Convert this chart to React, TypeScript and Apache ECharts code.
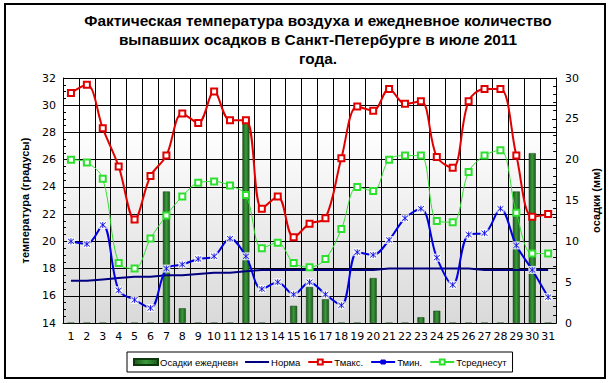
import React, { useEffect, useRef } from "react";
import * as echarts from "echarts";

const days = Array.from({ length: 31 }, (_, i) => String(i + 1));
const precip = [0, 0, 0, 0, 0, 0, 16.1, 1.8, 0, 0, 0, 24.9, 0, 0, 2.1, 4.4, 2.9, 0, 0, 5.5, 0, 0, 0.7, 1.5, 0, 0, 0, 0, 16.1, 20.8, 0];
const norma = [17.1, 17.1, 17.2, 17.3, 17.4, 17.4, 17.5, 17.5, 17.6, 17.7, 17.7, 17.8, 17.9, 17.9, 17.9, 17.9, 17.9, 17.9, 17.9, 17.9, 18.0, 18.0, 18.0, 18.0, 18.0, 18.0, 17.9, 17.9, 17.9, 17.9, 17.9];
const tmax = [30.9, 31.5, 28.3, 25.5, 21.6, 24.8, 26.3, 29.4, 28.7, 31.0, 28.9, 28.9, 22.4, 23.3, 20.3, 21.3, 21.7, 26.1, 29.9, 29.6, 31.2, 30.1, 30.3, 26.2, 25.4, 30.3, 31.2, 31.2, 26.3, 21.8, 22.0];
const tmin = [20.0, 19.8, 21.2, 16.4, 15.7, 15.1, 18.0, 18.3, 18.7, 18.9, 20.2, 18.9, 16.5, 17.0, 16.1, 17.0, 16.1, 15.3, 19.2, 19.0, 20.1, 21.7, 22.4, 18.8, 16.8, 20.5, 20.6, 22.4, 19.7, 17.9, 15.9];
const tavg = [26.0, 25.8, 24.6, 18.4, 18.0, 20.2, 21.9, 23.3, 24.3, 24.4, 24.1, 23.4, 19.5, 19.9, 18.4, 18.1, 18.7, 20.9, 24.0, 23.7, 26.0, 26.3, 26.3, 21.5, 21.4, 25.1, 26.3, 26.7, 22.1, 19.1, 19.1];
const titleLines = [
  "Фактическая температура воздуха и ежедневное количество",
  "выпавших осадков в Санкт-Петербурге в июле 2011",
  "года.",
];
const names = ["Осадки ежедневн", "Норма", "Тмакс.", "Тмин.", "Тсреднесут"];

const STAR = "path://M0,0L10,10M10,0L0,10M5,-1L5,11";
const LINEICON = "path://M0,0L24,0L24,2L0,2Z";
const FONT = "Liberation Sans";
const TICKFONT = "DejaVu Sans";

export default function App() {
  const ref = useRef<HTMLDivElement>(null);
  useEffect(() => {
    document.body.style.margin = "0";
    const chart = echarts.init(ref.current!, null, { renderer: "svg" });
    const option: any = {
      animation: false,
      backgroundColor: "#ffffff",
      graphic: [
        {
          type: "rect",
          shape: { x: 5, y: 4, width: 600, height: 374 },
          style: { fill: "none", stroke: "#000", lineWidth: 2 },
          silent: true,
        },
        ...titleLines.map((t, i) => ({
          type: "text",
          x: 318,
          y: 20 + i * 19,
          style: {
            text: t,
            font: `bold 15.4px "${FONT}"`,
            fill: "#000",
            align: "center",
            verticalAlign: "middle",
          },
        })),
      ],
      legend: {
        left: 127,
        top: 352,
        orient: "horizontal",
        padding: [5, 6, 5, 6],
        itemGap: 7,
        itemWidth: 24,
        itemHeight: 6,
        symbolKeepAspect: true,
        borderColor: "#000",
        borderWidth: 1,
        borderRadius: 0,
        textStyle: { fontFamily: FONT, fontSize: 9.5, color: "#000", padding: [0, 0, 0, -3] },
        data: [
          { name: names[0], icon: "rect" },
          { name: names[1], icon: LINEICON },
          names[2],
          names[3],
          names[4],
        ],
      },
      grid: {
        left: 63,
        top: 78,
        width: 499,
        height: 245,
        show: true,
        borderWidth: 0,
        backgroundColor: new echarts.graphic.LinearGradient(0, 0, 0, 1, [
          { offset: 0, color: "#ffffff" },
          { offset: 0.2, color: "#ffffff" },
          { offset: 1, color: "#d9d9d9" },
        ]),
      },
      xAxis: {
        type: "category",
        data: days,
        boundaryGap: true,
        axisLine: { lineStyle: { color: "#000", width: 1 } },
        axisTick: { show: false },
        axisLabel: { color: "#000", fontFamily: TICKFONT, fontSize: 11, margin: 8, interval: 0 },
        splitLine: { show: true, interval: 0, lineStyle: { color: "#000", width: 1 } },
      },
      yAxis: [
        {
          type: "value",
          min: 14,
          max: 32,
          interval: 2,
          name: "температура (градусы)",
          nameLocation: "middle",
          nameRotate: 90,
          nameGap: 33,
          nameTextStyle: { fontFamily: FONT, fontSize: 11, fontWeight: "bold", color: "#000" },
          axisLine: { show: true, lineStyle: { color: "#000" } },
          axisTick: { show: true, inside: true, length: 4, lineStyle: { color: "#000" } },
          minorTick: { show: true, splitNumber: 4, length: 3, lineStyle: { color: "#000" } },
          axisLabel: { color: "#000", fontFamily: TICKFONT, fontSize: 11, margin: 7 },
          splitLine: { show: true, lineStyle: { color: "#000", width: 1 } },
        },
        {
          type: "value",
          min: 0,
          max: 30,
          interval: 5,
          position: "right",
          name: "осадки (мм)",
          nameLocation: "middle",
          nameRotate: 90,
          nameGap: 30,
          nameTextStyle: { fontFamily: FONT, fontSize: 11, fontWeight: "bold", color: "#000" },
          axisLine: { show: true, lineStyle: { color: "#000" } },
          axisTick: { show: true, inside: true, length: 4, lineStyle: { color: "#000" } },
          minorTick: { show: true, splitNumber: 5, length: 3, lineStyle: { color: "#000" } },
          axisLabel: { color: "#000", fontFamily: TICKFONT, fontSize: 11, margin: 9 },
          splitLine: { show: false },
        },
      ],
      series: [
        {
          name: names[0],
          type: "bar",
          yAxisIndex: 1,
          data: precip,
          barWidth: 7,
          z: 1,
          itemStyle: {
            color: new echarts.graphic.LinearGradient(0, 0, 1, 0, [
              { offset: 0, color: "#1d5a1d" },
              { offset: 0.5, color: "#3c9a3c" },
              { offset: 1, color: "#1d5a1d" },
            ]),
            borderColor: "#0d3a0d",
            borderWidth: 0.5,
          },
        },
        {
          name: names[1],
          type: "line",
          data: norma,
          showSymbol: false,
          symbol: "none",
          color: "#000080",
          lineStyle: { color: "#000080", width: 2 },
          z: 2,
        },
        {
          name: names[2],
          type: "line",
          data: tmax,
          smooth: 0.35,
          symbol: "emptyRect",
          symbolSize: 6,
          color: "#e00000",
          lineStyle: { color: "#e00000", width: 2 },
          itemStyle: { color: "#e00000", borderWidth: 1 },
          z: 4,
        },
        {
          name: names[3],
          type: "line",
          data: tmin,
          smooth: 0.35,
          symbol: STAR,
          symbolSize: 6,
          color: "#0000e0",
          lineStyle: { color: "#0000e0", width: 2 },
          itemStyle: { color: "#0000e0", borderColor: "#0000e0", borderWidth: 1 },
          z: 3,
        },
        {
          type: "scatter",
          data: tmin,
          symbol: "rect",
          symbolSize: 8,
          itemStyle: { color: "#ffffff" },
          silent: true,
          z: 3.5,
        },
        {
          type: "scatter",
          data: tmin,
          symbol: STAR,
          symbolSize: 6,
          itemStyle: { color: "#0000e0", borderColor: "#0000e0", borderWidth: 1 },
          silent: true,
          z: 3.6,
        },
        {
          name: names[4],
          type: "line",
          data: tavg,
          smooth: 0.35,
          symbol: "emptyRect",
          symbolSize: 6,
          color: "#2ee02e",
          lineStyle: { color: "#2ee02e", width: 1 },
          itemStyle: { color: "#2ee02e", borderWidth: 1 },
          z: 3,
        },
      ],
    };
    chart.setOption(option);
    return () => chart.dispose();
  }, []);
  return <div ref={ref} style={{ width: 609, height: 383 }} />;
}
